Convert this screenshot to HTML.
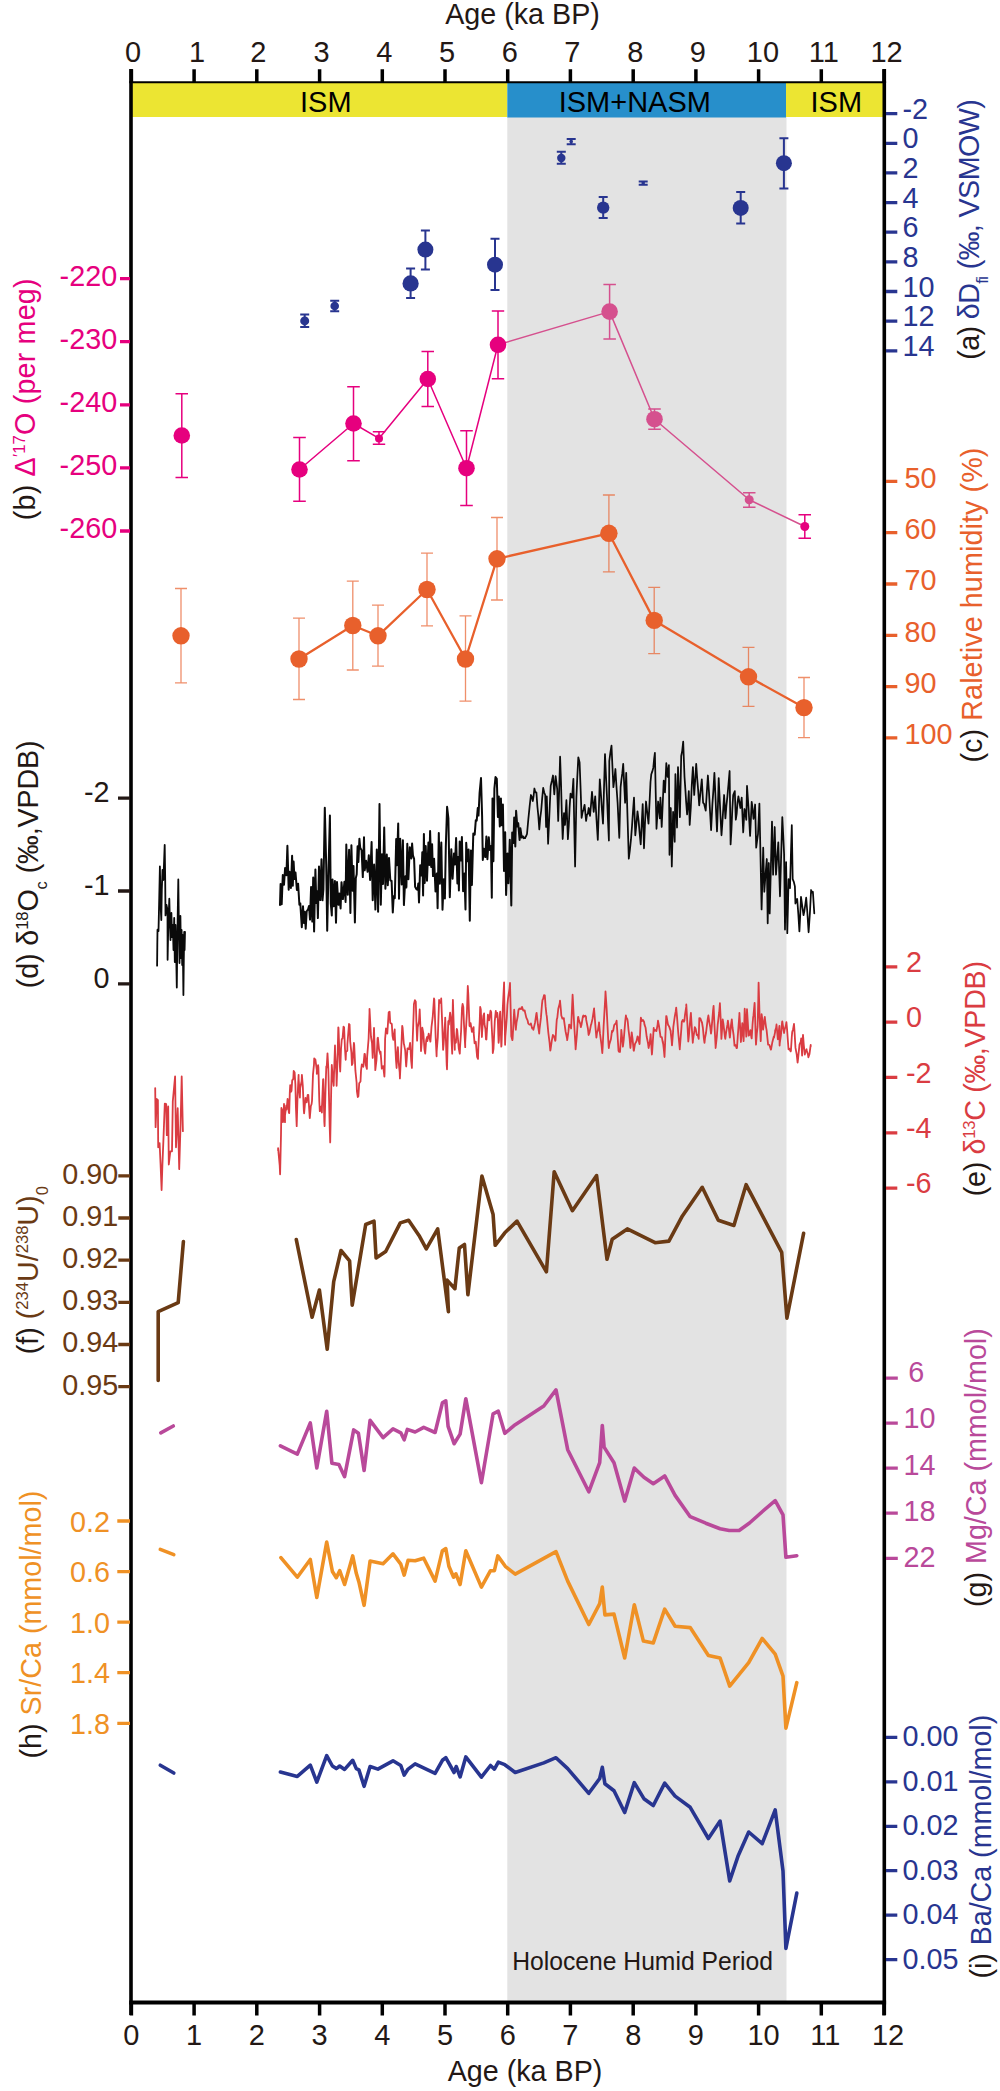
<!DOCTYPE html>
<html><head><meta charset="utf-8"><style>
html,body{margin:0;padding:0;background:#fff;}
svg{display:block;font-family:"Liberation Sans", sans-serif;}
</style></head><body>
<svg width="1000" height="2091" viewBox="0 0 1000 2091">
<rect width="1000" height="2091" fill="#fff"/>
<rect x="507.3" y="117" width="279.2" height="1884" fill="#E3E3E3"/>
<rect x="131" y="83" width="376.3" height="34" fill="#ECE532"/>
<rect x="786" y="83" width="98" height="34" fill="#ECE532"/>
<rect x="507.3" y="83" width="278.7" height="34.5" fill="#278FCB"/>
<text transform="translate(325.8,112.2) scale(1,1.035)" font-size="29" text-anchor="middle" fill="#000">ISM</text>
<text transform="translate(634.8,112.2) scale(1,1.035)" font-size="29" text-anchor="middle" fill="#000">ISM+NASM</text>
<text transform="translate(836.3,112.2) scale(1,1.035)" font-size="29" text-anchor="middle" fill="#000">ISM</text>
<text transform="translate(642.5,1969.6) scale(1,1.035)" font-size="24.7" text-anchor="middle" fill="#231815">Holocene Humid Period</text>
<path d="M304.7 314.6V327.1M300.2 314.6H309.2M300.2 327.1H309.2" stroke="#283590" stroke-width="2" fill="none" />
<circle cx="304.7" cy="320.9" r="4.5" fill="#283590"/>
<path d="M334.7 300.7V311.3M330.2 300.7H339.2M330.2 311.3H339.2" stroke="#283590" stroke-width="2" fill="none" />
<circle cx="334.7" cy="306.0" r="4.3" fill="#283590"/>
<path d="M410.6 268.6V298.1M406.1 268.6H415.1M406.1 298.1H415.1" stroke="#283590" stroke-width="2" fill="none" />
<circle cx="410.6" cy="283.4" r="8.1" fill="#283590"/>
<path d="M425.4 230.4V269.5M420.9 230.4H429.9M420.9 269.5H429.9" stroke="#283590" stroke-width="2" fill="none" />
<circle cx="425.4" cy="249.6" r="8" fill="#283590"/>
<path d="M495.0 238.8V289.9M490.5 238.8H499.5M490.5 289.9H499.5" stroke="#283590" stroke-width="2" fill="none" />
<circle cx="495.0" cy="264.7" r="8" fill="#283590"/>
<path d="M561.3 151.7V163.7M556.8 151.7H565.8M556.8 163.7H565.8" stroke="#283590" stroke-width="2" fill="none" />
<circle cx="561.3" cy="158.0" r="4.2" fill="#283590"/>
<path d="M571.2 139.0V144.2M566.7 139.0H575.7M566.7 144.2H575.7" stroke="#283590" stroke-width="2" fill="none" />
<circle cx="571.2" cy="141.6" r="1.8" fill="#283590"/>
<path d="M603.2 197.0V218.0M598.7 197.0H607.7M598.7 218.0H607.7" stroke="#283590" stroke-width="2" fill="none" />
<circle cx="603.2" cy="207.6" r="6.2" fill="#283590"/>
<path d="M643.2 181.4V184.7M638.7 181.4H647.7M638.7 184.7H647.7" stroke="#283590" stroke-width="2" fill="none" />
<circle cx="643.2" cy="182.9" r="1.8" fill="#283590"/>
<path d="M740.7 192.0V223.5M736.2 192.0H745.2M736.2 223.5H745.2" stroke="#283590" stroke-width="2" fill="none" />
<circle cx="740.7" cy="207.9" r="8" fill="#283590"/>
<path d="M783.9 138.2V188.6M779.4 138.2H788.4M779.4 188.6H788.4" stroke="#283590" stroke-width="2" fill="none" />
<circle cx="783.9" cy="163.2" r="8" fill="#283590"/>
<polyline points="299.5,469.5 353.5,423.5 379.0,438.4 427.8,379.0 466.5,468.2 498.0,344.8" fill="none" stroke="#E6007E" stroke-width="1.5" stroke-linejoin="round" stroke-linecap="round" />
<polyline points="498.0,344.8 609.6,311.6 654.5,419.2 749.2,499.8" fill="none" stroke="#D5508E" stroke-width="1.5" stroke-linejoin="round" stroke-linecap="round" />
<polyline points="749.2,499.8 804.8,526.5" fill="none" stroke="#D5508E" stroke-width="1.5" stroke-linejoin="round" stroke-linecap="round" />
<path d="M181.8 393.8V477.5M175.5 393.8H188.0M175.5 477.5H188.0" stroke="#E6007E" stroke-width="1.5" fill="none" />
<circle cx="181.8" cy="435.5" r="8.3" fill="#E6007E"/>
<path d="M299.5 437.5V501.2M293.2 437.5H305.8M293.2 501.2H305.8" stroke="#E6007E" stroke-width="1.5" fill="none" />
<circle cx="299.5" cy="469.5" r="8.3" fill="#E6007E"/>
<path d="M353.5 386.8V460.8M347.2 386.8H359.8M347.2 460.8H359.8" stroke="#E6007E" stroke-width="1.5" fill="none" />
<circle cx="353.5" cy="423.5" r="8.3" fill="#E6007E"/>
<path d="M379.0 431.8V444.2M372.8 431.8H385.2M372.8 444.2H385.2" stroke="#E6007E" stroke-width="1.5" fill="none" />
<circle cx="379.0" cy="438.4" r="4" fill="#E6007E"/>
<path d="M427.8 351.5V406.5M421.5 351.5H434.0M421.5 406.5H434.0" stroke="#E6007E" stroke-width="1.5" fill="none" />
<circle cx="427.8" cy="379.0" r="8.3" fill="#E6007E"/>
<path d="M466.5 430.8V505.5M460.2 430.8H472.8M460.2 505.5H472.8" stroke="#E6007E" stroke-width="1.5" fill="none" />
<circle cx="466.5" cy="468.2" r="8.3" fill="#E6007E"/>
<path d="M498.0 311.0V378.8M491.8 311.0H504.2M491.8 378.8H504.2" stroke="#E6007E" stroke-width="1.5" fill="none" />
<circle cx="498.0" cy="344.8" r="8.3" fill="#E6007E"/>
<path d="M609.6 284.5V339.0M603.4 284.5H615.9M603.4 339.0H615.9" stroke="#D5508E" stroke-width="1.5" fill="none" />
<circle cx="609.6" cy="311.6" r="8.3" fill="#D5508E"/>
<path d="M654.5 409.0V429.2M648.2 409.0H660.8M648.2 429.2H660.8" stroke="#D5508E" stroke-width="1.5" fill="none" />
<circle cx="654.5" cy="419.2" r="8.3" fill="#D5508E"/>
<path d="M749.2 492.8V507.2M743.0 492.8H755.5M743.0 507.2H755.5" stroke="#D5508E" stroke-width="1.5" fill="none" />
<circle cx="749.2" cy="499.8" r="4.5" fill="#D5508E"/>
<path d="M804.8 514.8V538.2M798.5 514.8H811.0M798.5 538.2H811.0" stroke="#E6007E" stroke-width="1.5" fill="none" />
<circle cx="804.8" cy="526.5" r="4.5" fill="#E6007E"/>
<path d="M181.0 588.5V682.8M175.0 588.5H187.0M175.0 682.8H187.0" stroke="#E8602C" stroke-width="1.3" fill="none" opacity="0.7"/>
<path d="M299.0 618.2V699.5M293.0 618.2H305.0M293.0 699.5H305.0" stroke="#E8602C" stroke-width="1.3" fill="none" opacity="0.7"/>
<path d="M352.8 581.2V670.0M346.8 581.2H358.8M346.8 670.0H358.8" stroke="#E8602C" stroke-width="1.3" fill="none" opacity="0.7"/>
<path d="M378.0 605.2V666.2M372.0 605.2H384.0M372.0 666.2H384.0" stroke="#E8602C" stroke-width="1.3" fill="none" opacity="0.7"/>
<path d="M427.0 553.2V625.8M421.0 553.2H433.0M421.0 625.8H433.0" stroke="#E8602C" stroke-width="1.3" fill="none" opacity="0.7"/>
<path d="M465.5 615.8V701.2M459.5 615.8H471.5M459.5 701.2H471.5" stroke="#E8602C" stroke-width="1.3" fill="none" opacity="0.7"/>
<path d="M497.0 517.5V600.0M491.0 517.5H503.0M491.0 600.0H503.0" stroke="#E8602C" stroke-width="1.3" fill="none" opacity="0.7"/>
<path d="M608.9 495.0V571.8M602.9 495.0H614.9M602.9 571.8H614.9" stroke="#E8602C" stroke-width="1.3" fill="none" opacity="0.7"/>
<path d="M654.2 587.3V653.7M648.2 587.3H660.2M648.2 653.7H660.2" stroke="#E8602C" stroke-width="1.3" fill="none" opacity="0.7"/>
<path d="M748.5 647.3V706.3M742.5 647.3H754.5M742.5 706.3H754.5" stroke="#E8602C" stroke-width="1.3" fill="none" opacity="0.7"/>
<path d="M804.0 677.5V737.6M798.0 677.5H810.0M798.0 737.6H810.0" stroke="#E8602C" stroke-width="1.3" fill="none" opacity="0.7"/>
<polyline points="299.0,659.0 352.8,625.5 378.0,635.8 427.0,589.5 465.5,659.0 497.0,558.8 608.9,533.3 654.2,620.4 748.5,676.8 804.0,707.6" fill="none" stroke="#E8602C" stroke-width="2.3" stroke-linejoin="round" stroke-linecap="round" />
<circle cx="181.0" cy="635.8" r="8.7" fill="#E8602C"/>
<circle cx="299.0" cy="659.0" r="8.7" fill="#E8602C"/>
<circle cx="352.8" cy="625.5" r="8.7" fill="#E8602C"/>
<circle cx="378.0" cy="635.8" r="8.7" fill="#E8602C"/>
<circle cx="427.0" cy="589.5" r="8.7" fill="#E8602C"/>
<circle cx="465.5" cy="659.0" r="8.7" fill="#E8602C"/>
<circle cx="497.0" cy="558.8" r="8.7" fill="#E8602C"/>
<circle cx="608.9" cy="533.3" r="8.7" fill="#E8602C"/>
<circle cx="654.2" cy="620.4" r="8.7" fill="#E8602C"/>
<circle cx="748.5" cy="676.8" r="8.7" fill="#E8602C"/>
<circle cx="804.0" cy="707.6" r="8.7" fill="#E8602C"/>
<polyline points="158.2,1380.5 158.2,1311.6 178.2,1302.7 183.4,1241.6" fill="none" stroke="#6A3A14" stroke-width="3.6" stroke-linejoin="round" stroke-linecap="round" />
<polyline points="296.3,1239.6 312.1,1317.3 319.4,1290.0 327.2,1349.3 333.7,1281.7 341.0,1250.5 349.6,1260.9 352.2,1305.1 365.7,1224.5 374.0,1221.1 376.1,1258.0 385.7,1251.5 400.3,1222.9 408.6,1220.3 419.0,1235.4 426.3,1248.9 437.7,1228.9 448.4,1311.6 447.1,1280.1 454.9,1288.7 459.3,1247.9 464.5,1244.5 467.9,1294.7 481.9,1176.1 493.1,1214.6 495.2,1245.3 504.8,1232.8 517.0,1221.1 546.4,1271.8 554.2,1171.7 572.4,1210.7 596.6,1175.6 607.0,1259.3 612.2,1239.3 627.3,1228.9 655.1,1242.7 668.9,1241.1 682.4,1215.9 702.2,1187.3 718.3,1220.3 733.9,1225.5 746.1,1184.7 781.7,1252.3 786.9,1318.1 803.6,1233.3" fill="none" stroke="#6A3A14" stroke-width="3.6" stroke-linejoin="round" stroke-linecap="round" />
<polyline points="160.8,1432.8 173.3,1426.0" fill="none" stroke="#B9499A" stroke-width="3.6" stroke-linejoin="round" stroke-linecap="round" />
<polyline points="280.4,1445.8 297.3,1454.1 310.3,1422.9 316.8,1467.9 326.7,1411.2 331.9,1463.2 338.9,1464.5 344.6,1476.7 353.7,1429.9 358.4,1433.3 364.1,1470.5 370.1,1420.3 383.1,1437.7 393.0,1428.9 400.8,1432.8 404.2,1439.8 407.3,1429.4 415.1,1432.0 423.7,1427.3 435.1,1432.5 442.4,1402.9 445.8,1400.8 448.1,1426.3 454.1,1443.7 460.1,1434.1 465.8,1398.7 481.4,1482.7 493.1,1413.8 498.3,1411.2 504.8,1433.3 515.2,1424.7 543.8,1406.0 556.0,1389.9 567.7,1449.7 588.8,1491.8 599.7,1462.7 602.3,1425.5 604.1,1447.1 614.0,1462.7 624.7,1501.1 634.3,1468.1 643.9,1477.2 653.3,1483.7 664.7,1475.9 675.1,1495.4 690.2,1516.7 705.8,1523.2 720.1,1528.7 729.2,1530.5 739.1,1530.5 749.5,1523.0 763.0,1511.0 775.2,1500.6 783.0,1514.9 785.9,1557.3 796.8,1555.7" fill="none" stroke="#B9499A" stroke-width="3.6" stroke-linejoin="round" stroke-linecap="round" />
<polyline points="160.3,1549.4 173.8,1554.6" fill="none" stroke="#EF9125" stroke-width="3.6" stroke-linejoin="round" stroke-linecap="round" />
<polyline points="280.9,1557.7 297.3,1577.2 310.3,1559.5 316.8,1597.5 326.7,1542.1 332.4,1571.5 336.3,1577.7 339.7,1570.7 344.6,1584.5 352.7,1555.9 356.3,1573.3 358.9,1581.9 364.1,1605.3 370.1,1561.1 383.1,1563.7 393.0,1553.8 400.8,1564.2 404.2,1575.1 408.1,1560.3 415.1,1560.8 423.7,1558.2 435.1,1581.1 442.4,1550.7 445.8,1548.6 448.9,1566.3 453.6,1577.2 455.9,1573.8 460.1,1584.5 465.8,1550.7 481.4,1587.1 490.5,1570.7 494.4,1570.7 497.8,1555.9 505.3,1566.3 515.2,1574.1 556.0,1551.7 567.7,1581.1 588.8,1624.5 599.7,1603.7 602.3,1587.1 604.9,1614.9 614.0,1614.1 624.7,1658.0 634.3,1604.7 643.4,1641.1 653.3,1642.9 664.7,1609.1 675.1,1626.3 690.2,1627.6 708.4,1655.4 720.1,1658.0 729.7,1686.1 748.7,1662.7 762.2,1638.5 775.2,1654.1 783.0,1676.2 785.9,1728.2 796.8,1682.7" fill="none" stroke="#EF9125" stroke-width="3.6" stroke-linejoin="round" stroke-linecap="round" />
<polyline points="160.3,1765.2 173.8,1773.0" fill="none" stroke="#283590" stroke-width="3.6" stroke-linejoin="round" stroke-linecap="round" />
<polyline points="280.4,1772.0 297.3,1776.4 310.3,1765.2 316.8,1782.1 326.7,1755.6 332.4,1766.0 336.3,1768.6 339.7,1766.0 344.6,1769.4 352.7,1760.3 356.3,1768.6 358.9,1769.9 364.1,1786.3 370.1,1766.5 377.9,1769.1 393.0,1760.8 400.8,1765.5 404.2,1775.1 408.1,1769.1 415.1,1763.9 435.1,1773.3 442.4,1760.3 445.8,1757.7 454.1,1772.5 456.2,1766.5 460.1,1776.9 465.8,1756.9 481.4,1777.2 490.5,1765.5 494.4,1769.1 498.3,1762.1 504.8,1764.7 515.2,1772.5 543.8,1762.9 556.0,1757.7 567.7,1768.6 588.8,1793.3 599.7,1778.5 602.3,1767.3 604.9,1783.7 614.0,1790.7 624.7,1812.5 634.3,1782.6 643.9,1798.7 653.3,1805.5 664.7,1783.1 675.1,1796.1 690.2,1807.3 708.4,1838.5 720.1,1821.1 729.7,1880.9 738.3,1855.4 748.7,1832.0 762.2,1843.7 775.2,1809.9 783.0,1871.0 785.9,1948.5 796.8,1893.1" fill="none" stroke="#283590" stroke-width="3.6" stroke-linejoin="round" stroke-linecap="round" />
<polyline points="157.1,965.7 157.3,945.0 157.5,929.7 158.5,931.0 159.2,900.0 159.9,866.4 160.6,905.0 161.3,920.0 161.8,890.0 162.5,870.0 163.4,880.0 164.7,844.9 165.2,880.0 165.5,915.4 166.5,905.0 167.5,910.0 167.6,959.8 168.2,930.0 169.3,898.7 170.0,925.0 170.5,940.0 171.4,913.0 172.0,937.0 172.8,925.0 173.5,950.0 174.2,918.0 174.8,962.0 175.5,925.0 176.2,955.0 176.8,987.5 177.3,940.0 178.3,879.4 178.8,920.0 179.5,963.0 180.0,925.0 180.4,916.0 181.0,958.0 181.6,930.0 182.2,965.0 182.7,935.0 183.4,995.0 183.8,960.0 184.2,932.0 184.6,950.0 185.0,932.0" fill="none" stroke="#0a0a0a" stroke-width="1.8" stroke-linejoin="round" stroke-linecap="round" />
<polyline points="280.0,905.0 280.6,883.9 281.7,904.2 282.8,875.0 284.0,884.8 285.1,868.1 286.4,875.2 287.4,845.7 288.7,889.8 289.5,871.7 290.9,888.0 292.1,855.7 292.8,885.8 293.6,861.6 294.5,879.1 295.5,872.5 296.9,890.0 298.1,883.8 299.4,904.7 300.3,903.3 301.8,927.2 303.0,906.3 303.9,923.0 304.7,911.8 305.7,928.7 306.7,911.3 308.1,909.2 309.0,906.0 310.0,919.6 311.1,886.9 312.3,921.6 313.2,877.5 314.1,931.6 315.4,869.5 316.3,902.9 317.1,891.2 317.9,918.1 319.0,866.5 320.3,900.1 321.5,859.3 322.5,900.3 323.4,889.5 324.8,807.8 326.2,864.3 327.2,930.7 328.4,874.7 329.9,815.6 330.8,903.6 331.8,915.5 332.5,879.4 333.7,906.2 334.9,881.1 336.0,922.8 337.0,882.1 338.4,904.8 339.3,893.6 340.6,908.5 341.5,882.2 342.9,899.1 344.4,881.8 345.6,901.9 346.3,844.5 347.8,894.8 349.1,849.8 350.4,912.9 351.4,845.3 352.6,890.7 353.5,865.9 354.9,922.4 355.8,878.2 356.7,874.2 357.6,846.2 358.4,861.9 359.4,838.7 360.2,847.8 361.6,850.2 362.8,877.1 364.0,837.2 364.7,870.3 366.1,860.8 367.6,871.8 368.8,855.2 370.1,880.0 371.6,842.1 372.7,900.3 374.1,864.6 375.4,909.6 376.8,849.5 378.1,911.8 379.5,804.0 380.8,904.7 382.0,854.3 383.0,884.1 384.2,827.6 385.4,888.7 386.8,854.5 387.8,885.2 389.0,857.9 390.3,880.3 391.6,881.0 392.8,912.5 393.7,896.3 394.8,898.2 396.2,838.9 396.9,865.3 398.2,823.6 399.0,898.7 400.2,838.8 401.7,884.5 402.9,840.3 403.9,905.1 405.4,876.3 406.4,887.4 407.3,843.8 408.4,879.3 409.8,847.2 411.3,858.4 412.1,843.5 413.0,855.7 414.1,858.9 415.1,886.7 416.5,889.3 417.6,889.7 418.3,883.4 419.0,902.5 420.2,865.2 421.5,875.4 422.3,852.3 423.1,895.6 423.9,834.0 424.7,882.9 425.7,846.1 427.0,880.8 428.4,842.6 429.3,865.0 430.1,831.1 431.2,867.0 432.1,844.3 433.0,876.1 434.1,858.7 435.5,891.5 436.8,873.6 437.6,908.2 438.8,833.0 439.9,883.7 441.3,842.6 442.5,909.7 443.8,879.3 444.9,898.5 445.8,846.9 447.1,806.8 448.4,818.4 449.8,897.3 451.3,849.2 452.6,878.7 454.0,853.6 455.0,864.4 456.1,838.0 457.4,883.4 458.1,857.0 458.9,890.4 459.7,841.6 461.0,860.4 461.9,837.1 463.1,891.3 464.4,873.4 465.5,909.4 466.2,842.7 467.4,861.2 468.6,849.4 469.8,920.8 470.9,850.6 471.9,885.0 473.3,833.6 474.7,834.6 475.8,820.2 476.7,820.6 477.8,807.9 478.5,815.6 479.6,792.8 481.0,778.0 482.1,816.0 482.8,859.9 483.9,848.8 485.3,857.1 486.4,836.4 487.4,859.3 488.8,837.3 489.8,849.9 491.0,846.1 491.8,897.8 492.5,798.6 493.4,861.2 494.4,788.6 495.5,777.0 496.8,778.9 497.9,817.0 498.8,796.4 499.8,826.5 500.9,798.4 501.7,825.2 502.9,804.6 504.0,870.9 505.2,832.3 506.1,894.9 507.5,853.4 508.4,883.3 509.8,839.7 511.3,905.5 512.2,832.6 513.4,843.0 514.2,817.6 515.3,846.5 516.1,810.8 517.3,826.6 518.2,823.1 519.6,840.0 520.4,828.3 521.7,837.5 522.9,836.4 523.7,838.1 524.4,837.8 525.0,838.0" fill="none" stroke="#0a0a0a" stroke-width="2.0" stroke-linejoin="round" stroke-linecap="round" />
<polyline points="525.0,838.0 526.0,836.3 527.0,834.0 528.3,819.6 529.6,806.7 530.9,795.0 531.8,796.8 532.8,801.0 533.6,796.1 534.4,788.5 535.4,792.4 536.4,792.4 537.4,806.5 538.3,815.5 539.3,829.5 540.3,817.3 541.2,810.5 542.2,798.1 543.2,787.9 544.2,792.5 545.2,795.0 546.1,826.9 546.8,796.3 548.1,843.8 549.0,823.8 549.8,805.1 550.7,785.9 551.9,780.8 553.0,775.5 554.3,794.4 555.6,776.2 556.4,782.4 557.2,789.2 558.2,821.0 559.2,789.3 560.1,756.7 561.0,782.2 561.8,812.4 562.7,839.0 564.0,813.2 565.0,825.0 566.4,800.2 567.9,839.2 568.8,825.4 569.6,807.6 570.5,793.7 571.3,795.5 572.1,797.6 573.4,778.8 574.2,823.6 575.1,866.5 576.4,797.6 577.3,777.1 578.3,757.3 579.6,762.5 580.6,788.9 581.6,817.8 582.6,812.1 583.6,809.2 584.6,804.8 586.1,821.0 587.0,814.7 587.8,813.9 588.7,808.0 590.0,815.8 591.0,805.0 592.0,791.8 592.9,802.7 593.7,811.9 595.2,796.3 596.5,819.5 597.8,839.9 598.8,810.2 599.8,779.4 600.9,793.8 601.9,809.3 603.0,823.6 604.0,788.9 605.0,754.1 606.0,776.5 606.9,795.0 607.9,819.0 608.9,840.5 609.3,761.2 610.4,752.4 611.5,745.6 612.5,768.0 613.4,787.2 614.4,779.1 615.4,769.0 616.5,787.0 617.6,802.8 618.5,821.6 619.3,837.9 620.6,787.2 621.5,779.0 622.3,773.2 623.2,763.8 624.2,784.8 625.1,802.8 626.2,772.9 627.5,816.6 628.8,858.7 629.9,850.0 631.0,839.2 632.0,826.4 633.0,811.1 634.0,797.6 635.3,835.3 636.4,824.2 637.5,811.3 638.6,820.6 639.6,832.7 640.7,844.4 641.7,824.1 642.7,804.1 644.0,848.3 645.0,822.9 646.0,801.5 647.2,812.0 648.5,823.6 649.5,803.4 650.5,782.0 651.3,774.2 652.3,771.4 653.3,767.7 654.1,759.2 654.9,752.8 655.7,792.6 656.5,828.8 657.3,815.8 658.1,801.5 659.0,809.3 659.8,818.4 660.4,797.6 661.7,826.9 662.7,804.4 663.7,780.7 665.0,792.4 666.3,763.2 667.6,776.8 668.9,765.1 669.5,854.8 670.8,808.0 671.8,866.5 673.1,811.9 673.9,827.1 674.7,841.8 675.4,774.2 676.2,801.0 677.0,827.5 678.0,767.1 679.0,791.7 679.9,817.1 681.2,756.0 682.2,750.8 683.2,741.7 684.5,776.8 685.4,789.9 686.2,802.7 687.1,814.5 688.0,803.8 688.8,791.1 689.7,824.9 690.8,807.6 691.8,784.5 692.9,767.1 694.2,795.0 695.2,779.9 696.2,763.8 697.2,778.6 698.2,790.6 699.2,805.4 700.5,792.0 701.8,779.4 703.1,802.8 704.0,803.6 704.8,806.8 705.7,810.6 706.8,792.6 707.9,775.5 709.0,792.1 710.0,810.9 711.1,830.1 712.4,804.1 713.4,790.1 714.4,772.9 715.3,792.6 716.1,811.9 717.0,831.4 717.9,806.6 718.7,778.1 719.6,797.4 720.6,818.2 721.5,835.3 722.4,822.4 723.2,809.7 724.1,795.0 725.4,818.4 726.4,805.7 727.4,796.3 728.5,784.0 729.6,771.0 730.6,844.4 731.5,829.0 732.3,809.6 733.2,795.0 734.8,791.1 735.8,819.7 736.7,813.6 737.5,802.7 738.4,796.3 739.4,802.0 740.4,808.0 741.7,797.6 743.2,832.4 744.5,809.0 745.4,813.1 746.3,819.8 747.0,785.9 747.8,797.4 748.6,809.0 750.1,836.0 750.9,819.3 751.7,801.8 752.6,808.6 753.5,818.9 754.3,813.5 755.1,804.5 756.2,847.7 757.1,840.6 758.0,834.2 759.4,803.6 760.5,856.6 761.6,909.4 762.4,878.9 763.2,847.7 764.3,891.8 765.5,874.9 766.8,859.0 767.7,923.3 768.8,863.0 769.7,913.4 770.9,866.6 772.0,821.6 773.1,874.7 773.9,851.5 774.7,827.0 776.0,874.7 777.1,858.7 778.3,842.3 779.1,868.4 780.0,896.3 781.1,857.6 782.3,817.1 783.2,834.7 784.1,854.0 785.0,929.6 786.1,862.1 787.3,933.2 788.6,879.2 790.0,888.2 790.9,854.8 791.8,825.2 792.7,879.2 793.8,881.8 794.9,886.4 795.4,903.5 796.3,899.4 797.2,899.0 798.3,913.8 799.4,931.4 800.2,915.1 801.0,896.8 802.2,905.6 803.5,915.2 804.4,911.0 805.3,904.5 806.2,897.7 807.4,913.2 808.6,932.3 809.9,913.1 811.1,890.0 812.0,892.7 812.9,891.8 814.3,913.4" fill="none" stroke="#0a0a0a" stroke-width="1.75" stroke-linejoin="round" stroke-linecap="round" />
<polyline points="155.2,1088.1 155.6,1127.2 156.8,1099.0 157.9,1100.2 158.2,1147.3 159.6,1143.2 160.6,1165.0 161.6,1190.0 162.4,1165.0 163.4,1140.4 164.8,1103.6 166.2,1104.2 166.8,1135.2 168.2,1106.5 168.8,1164.5 170.3,1151.3 172.0,1151.3 172.8,1101.3 175.1,1076.4 176.0,1147.3 177.7,1108.2 179.2,1169.1 180.6,1123.1 181.7,1076.4 182.9,1131.2" fill="none" stroke="#DA3C42" stroke-width="1.8" stroke-linejoin="round" stroke-linecap="round" />
<polyline points="278.1,1150.5 278.1,1148.2 279.7,1165.4 280.1,1174.3 281.0,1134.8 281.4,1107.9 282.1,1109.8 283.0,1122.2 283.7,1114.0 284.0,1104.0 285.0,1122.2 285.0,1115.6 286.3,1105.3 286.6,1109.6 287.6,1098.8 288.2,1102.7 288.8,1112.1 289.2,1113.1 289.8,1092.6 290.2,1085.2 290.8,1091.8 291.5,1091.0 292.2,1080.4 293.3,1078.9 293.7,1070.9 294.6,1072.4 295.4,1084.5 295.9,1106.7 296.7,1126.1 297.5,1098.0 298.6,1074.8 298.6,1078.0 299.9,1097.5 300.2,1088.0 301.6,1081.3 301.9,1074.8 302.8,1085.7 303.8,1109.9 304.1,1113.3 305.5,1097.9 306.6,1102.3 307.7,1094.9 308.3,1094.9 309.7,1117.0 309.8,1118.1 310.8,1106.3 311.6,1104.0 312.0,1101.0 313.0,1074.4 314.0,1064.3 314.2,1058.5 315.4,1059.6 316.8,1070.2 316.8,1073.8 318.1,1065.1 318.4,1067.6 319.3,1101.1 319.8,1111.2 320.9,1106.7 321.9,1112.5 322.0,1106.6 323.1,1079.3 323.3,1079.1 324.3,1122.0 324.6,1126.1 325.5,1090.3 326.3,1066.3 326.7,1067.4 327.5,1053.3 328.3,1068.3 328.5,1075.4 329.7,1127.0 330.2,1142.4 331.3,1085.2 331.8,1065.0 332.5,1075.1 333.7,1085.8 334.1,1071.3 335.0,1045.5 335.1,1051.7 336.4,1074.6 336.6,1085.8 337.5,1060.3 338.3,1027.3 338.5,1028.3 339.9,1066.7 340.2,1071.5 341.0,1049.2 341.8,1039.0 342.5,1038.7 343.5,1026.7 344.1,1027.3 345.0,1049.0 345.7,1059.8 346.0,1051.9 347.3,1050.8 347.4,1044.2 349.0,1024.0 349.6,1024.7 350.2,1041.5 351.4,1052.6 351.9,1065.0 352.6,1063.4 353.9,1042.9 354.2,1044.9 355.4,1070.7 356.6,1082.5 356.9,1091.0 357.8,1097.0 358.4,1096.2 359.2,1083.2 360.5,1081.5 361.0,1070.9 361.8,1064.5 363.3,1066.7 364.5,1053.8 364.9,1054.0 365.8,1065.1 366.9,1068.9 367.1,1057.3 368.6,1038.8 369.5,1013.0 369.5,1008.9 371.0,1037.0 372.0,1043.0 372.7,1057.9 373.6,1038.8 374.0,1028.0 375.0,1059.0 375.3,1070.2 376.5,1059.8 377.6,1038.1 377.9,1037.7 379.1,1050.1 380.5,1054.6 380.6,1051.7 381.8,1068.6 382.5,1066.3 383.2,1066.2 384.4,1076.7 384.6,1072.3 385.1,1039.0 386.0,1028.4 387.0,1029.9 387.3,1033.7 388.7,1012.2 389.6,1011.7 390.2,1022.8 391.8,1024.0 392.5,1035.8 393.3,1039.9 394.7,1029.5 394.8,1035.1 396.0,1060.1 396.6,1068.0 397.0,1056.6 397.9,1047.2 398.7,1062.8 399.7,1072.4 399.9,1078.4 400.9,1057.8 402.2,1025.8 402.6,1027.6 403.8,1043.7 404.1,1044.6 405.2,1050.3 406.1,1065.4 406.2,1066.5 407.5,1048.4 408.0,1048.5 409.1,1049.1 410.1,1042.8 410.3,1045.3 411.2,1060.9 411.9,1068.0 412.7,1039.2 413.7,1012.1 413.9,1004.3 414.9,1000.2 415.8,1001.7 416.4,1022.2 417.1,1040.7 417.7,1027.7 419.0,1021.1 419.7,1009.5 420.6,1032.1 421.0,1051.1 421.8,1041.6 422.3,1027.7 423.4,1033.7 424.5,1049.7 425.2,1053.7 426.2,1040.0 427.2,1036.8 427.4,1041.2 428.7,1033.6 430.4,1041.7 430.8,1036.8 431.5,1026.9 432.7,1017.2 434.0,998.5 434.3,999.3 435.7,1037.9 436.6,1056.3 436.7,1051.1 437.8,1037.6 439.1,1000.0 439.2,1003.0 440.8,1002.6 441.2,998.5 442.1,1020.8 443.1,1049.8 443.6,1044.1 445.1,1021.2 445.2,1017.6 446.7,1064.9 447.0,1069.3 447.9,1032.4 448.3,1021.2 448.8,1024.7 450.1,1012.7 450.9,1018.0 451.5,1039.9 452.2,1053.7 452.6,1014.9 452.9,999.8 453.9,1031.4 454.8,1049.8 454.8,1043.6 455.9,1042.6 456.8,1029.0 457.2,1030.0 458.8,1048.8 459.8,1053.7 460.0,1048.2 461.1,1030.9 462.0,1008.2 462.6,1004.0 463.3,1006.9 464.0,1024.5 465.2,1047.2 465.2,1042.4 466.9,1013.0 467.8,986.0 468.3,994.4 469.5,1025.9 469.8,1026.4 470.6,1023.2 471.9,1031.9 473.6,1027.1 473.7,1032.9 474.6,1043.3 475.8,1041.8 477.1,1056.8 478.0,1058.9 478.3,1048.6 479.7,1021.6 480.2,1006.9 480.8,1009.5 481.9,1037.0 482.1,1032.9 483.3,1016.0 484.1,1013.4 484.5,1024.0 485.4,1029.2 486.0,1039.4 486.4,1039.5 487.9,1014.6 488.0,1016.0 489.1,1020.4 490.5,1010.6 491.2,1012.1 491.6,1024.2 492.6,1043.6 492.8,1053.1 493.5,1048.8 494.8,1020.8 495.8,1010.8 496.2,1016.8 497.3,1012.9 497.8,1019.6 498.6,1042.8 498.9,1040.4 499.8,1014.8 500.2,1011.6 501.3,1046.6 501.5,1045.4 502.8,1008.4 504.1,982.4 504.2,991.2 505.1,1044.8 505.4,1036.5 506.8,1018.0 507.4,1005.1 508.0,998.8 509.5,988.6 510.0,983.0 510.9,1019.6 511.3,1036.3 512.4,1040.2 512.6,1038.9 513.8,1016.8 514.2,1009.7 515.1,1021.2 515.8,1029.8 516.5,1022.6 517.8,1016.0 518.4,1010.3 519.4,1008.5 521.0,1009.1 521.7,1007.1 522.1,1007.0 523.2,1010.5 524.7,1010.3 524.9,1011.6 526.3,1017.6 527.6,1020.4 528.2,1023.3 529.2,1024.5 530.8,1024.6 530.9,1023.5 532.2,1028.6 533.3,1027.9 533.4,1029.8 535.0,1022.9 536.4,1013.4 536.6,1012.9 537.9,1024.5 539.2,1033.7 539.5,1029.3 540.9,1017.9 542.0,1004.2 542.5,999.9 542.9,999.6 544.0,995.2 544.8,995.4 545.6,1006.4 546.4,1014.2 546.8,1016.3 548.3,1032.5 549.6,1042.8 550.3,1050.6 550.5,1049.9 551.8,1040.7 552.9,1035.0 553.0,1036.5 554.1,1036.2 555.2,1040.8 555.5,1040.2 556.4,1025.0 556.8,1019.4 557.3,1017.8 558.3,1008.7 559.7,1003.5 560.0,1000.6 560.9,1010.0 561.3,1015.5 562.4,1018.6 563.9,1018.2 563.9,1019.4 565.6,1031.5 567.1,1038.8 567.2,1040.2 568.4,1031.7 569.1,1024.6 570.0,1025.2 571.1,1028.5 571.3,1024.5 572.6,994.7 572.9,1000.0 573.9,1019.7 575.5,1046.2 575.6,1049.3 576.9,1034.7 578.0,1017.6 578.2,1016.8 579.0,1020.7 580.3,1023.8 580.8,1027.2 581.5,1024.8 582.9,1016.4 583.4,1015.5 584.0,1016.7 585.2,1015.6 586.0,1016.8 586.2,1019.9 587.9,1028.5 588.6,1035.0 589.5,1032.7 591.0,1024.6 591.2,1024.6 592.5,1018.9 594.1,1008.3 594.1,1009.0 595.6,1028.7 596.4,1037.6 597.0,1032.8 597.9,1030.4 599.0,1023.3 599.0,1022.4 600.0,1033.7 601.5,1045.0 602.3,1053.2 602.7,1046.7 603.6,1026.6 605.3,997.1 605.5,991.5 606.6,1007.9 608.2,1039.4 608.8,1048.0 609.3,1044.6 610.9,1039.3 612.0,1030.8 612.0,1032.4 613.2,1030.5 614.2,1025.1 615.9,1023.2 616.6,1020.7 617.3,1031.2 618.5,1050.6 618.9,1051.6 619.9,1050.5 620.0,1052.0 621.1,1035.6 621.3,1029.8 622.6,1042.6 622.9,1046.7 623.7,1040.2 625.3,1020.6 625.9,1015.5 626.3,1017.6 627.4,1019.3 627.8,1022.0 628.5,1029.6 629.6,1038.4 630.4,1048.0 631.1,1040.5 631.7,1032.4 632.5,1038.3 633.7,1050.6 633.9,1050.7 635.0,1043.9 636.5,1041.3 637.6,1036.3 637.9,1036.8 639.5,1044.1 639.6,1043.9 640.8,1018.8 640.9,1017.7 641.8,1021.1 643.0,1020.0 644.1,1022.0 644.5,1024.6 645.6,1027.8 646.0,1031.1 646.7,1036.8 648.1,1043.8 648.6,1048.0 649.7,1042.8 650.6,1035.0 650.6,1034.1 651.9,1054.5 652.1,1052.6 653.7,1028.0 653.8,1028.5 654.8,1030.7 656.2,1029.9 656.4,1031.1 657.6,1024.6 658.0,1020.7 658.9,1025.4 660.3,1035.0 660.5,1036.9 661.8,1037.1 662.9,1043.0 662.9,1041.5 663.9,1050.1 664.5,1057.0 665.0,1045.8 666.2,1016.2 666.5,1016.1 668.1,1025.2 668.1,1024.6 669.3,1026.9 670.7,1031.1 670.7,1032.3 671.6,1040.2 672.0,1045.4 673.1,1031.1 673.3,1027.2 674.7,1017.0 675.7,1011.4 676.2,1007.7 677.0,1016.7 677.9,1028.5 678.3,1033.5 679.8,1049.3 679.8,1048.5 681.4,1028.3 681.8,1022.0 682.8,1020.0 683.9,1021.7 684.4,1020.7 685.0,1014.9 686.2,1006.9 686.3,1004.5 687.5,1025.6 688.3,1041.5 688.9,1036.0 690.4,1017.6 690.9,1012.9 691.5,1023.4 692.8,1042.8 693.0,1039.9 694.5,1030.2 694.8,1027.2 695.7,1029.0 696.8,1035.0 697.7,1034.9 698.7,1038.9 699.2,1021.8 699.3,1018.1 700.3,1018.4 701.8,1022.4 701.9,1022.0 702.9,1028.0 703.9,1038.9 704.5,1042.8 705.0,1038.1 706.0,1033.0 707.7,1019.1 708.4,1015.5 709.2,1021.6 710.3,1027.3 711.0,1033.7 711.4,1030.9 713.0,1011.2 713.6,1005.8 714.2,1019.7 715.6,1046.6 715.6,1048.0 716.8,1037.0 717.7,1024.7 719.2,1012.2 719.9,1003.2 720.6,1017.3 721.4,1038.9 721.8,1033.4 722.7,1019.4 723.4,1023.6 724.9,1036.9 725.3,1038.9 726.1,1032.5 727.4,1024.7 727.9,1020.7 728.5,1025.0 729.8,1037.6 729.9,1037.6 731.0,1024.9 731.8,1019.4 732.5,1027.5 733.6,1035.0 734.4,1044.1 734.5,1045.7 735.7,1045.2 736.6,1048.2 737.0,1048.0 737.8,1036.0 739.4,1014.6 739.4,1012.9 740.5,1033.3 740.9,1042.0 741.5,1035.2 742.3,1023.1 742.7,1027.4 743.6,1041.1 744.2,1025.2 744.7,1008.7 745.1,1015.1 746.3,1036.6 746.3,1036.0 747.0,1009.2 747.9,1023.7 748.6,1035.7 749.4,1034.8 750.4,1030.2 750.4,1031.2 751.5,1037.8 751.7,1038.4 752.5,1025.0 753.1,1017.7 753.5,1015.2 754.6,1002.9 754.7,1004.5 755.7,1037.5 756.0,1044.7 756.8,1034.0 757.6,1026.7 758.3,998.7 758.6,982.6 759.3,1006.4 759.6,1016.8 760.7,1041.1 760.8,1039.5 761.6,1014.1 762.0,1016.8 763.0,1029.4 763.1,1029.7 764.3,1019.7 764.8,1016.8 765.2,1020.8 766.1,1027.6 766.6,1030.1 768.1,1044.6 768.4,1044.7 769.3,1044.8 770.9,1049.7 771.1,1049.2 772.4,1041.9 773.8,1036.6 774.0,1037.5 775.1,1032.1 775.1,1030.7 776.1,1027.8 776.5,1024.5 777.3,1033.1 777.8,1039.3 778.5,1034.2 779.4,1025.8 779.6,1045.6 779.8,1042.8 780.9,1035.4 782.1,1022.1 782.3,1021.3 783.6,1030.3 784.1,1033.0 784.5,1029.9 785.8,1025.8 786.4,1022.2 787.1,1029.9 788.5,1049.3 788.6,1049.2 789.4,1048.8 790.6,1051.4 790.9,1051.0 791.8,1036.8 792.2,1032.1 793.1,1029.2 794.0,1024.0 794.4,1029.6 795.4,1046.5 795.5,1047.9 796.7,1054.4 797.6,1062.7 798.0,1059.3 799.4,1045.6 799.5,1044.5 800.8,1041.5 801.2,1038.4 802.1,1055.5 802.4,1047.4 803.0,1034.8 803.8,1045.0 804.8,1054.6 805.3,1051.8 806.6,1049.2 806.7,1050.6 807.9,1054.2 808.4,1057.3 809.5,1053.9 810.7,1044.9 810.7,1046.5" fill="none" stroke="#DA3C42" stroke-width="1.8" stroke-linejoin="round" stroke-linecap="round" />
<path d="M131 69V2015M884.3 69V2015" stroke="#000" stroke-width="3.6" fill="none"/>
<path d="M129.2 82.2H886.1" stroke="#000" stroke-width="2" fill="none"/>
<path d="M129.2 2002.5H886.1" stroke="#000" stroke-width="4" fill="none"/>
<path d="M131.4 69.2V82M131.4 2003V2015.5M194.1 69.2V82M194.1 2003V2015.5M256.8 69.2V82M256.8 2003V2015.5M319.6 69.2V82M319.6 2003V2015.5M382.3 69.2V82M382.3 2003V2015.5M445.0 69.2V82M445.0 2003V2015.5M507.7 69.2V82M507.7 2003V2015.5M570.4 69.2V82M570.4 2003V2015.5M633.2 69.2V82M633.2 2003V2015.5M695.9 69.2V82M695.9 2003V2015.5M758.6 69.2V82M758.6 2003V2015.5M821.3 69.2V82M821.3 2003V2015.5M884.0 69.2V82M884.0 2003V2015.5" stroke="#000" stroke-width="3.5" fill="none"/>
<text transform="translate(133.1,61.8) scale(1,1.035)" font-size="29" text-anchor="middle" fill="#231815">0</text>
<text transform="translate(131.4,2044.7) scale(1,1.035)" font-size="29" text-anchor="middle" fill="#231815">0</text>
<text transform="translate(197.0,61.8) scale(1,1.035)" font-size="29" text-anchor="middle" fill="#231815">1</text>
<text transform="translate(194.1,2044.7) scale(1,1.035)" font-size="29" text-anchor="middle" fill="#231815">1</text>
<text transform="translate(258.2,61.8) scale(1,1.035)" font-size="29" text-anchor="middle" fill="#231815">2</text>
<text transform="translate(256.8,2044.7) scale(1,1.035)" font-size="29" text-anchor="middle" fill="#231815">2</text>
<text transform="translate(321.6,61.8) scale(1,1.035)" font-size="29" text-anchor="middle" fill="#231815">3</text>
<text transform="translate(319.6,2044.7) scale(1,1.035)" font-size="29" text-anchor="middle" fill="#231815">3</text>
<text transform="translate(384.3,61.8) scale(1,1.035)" font-size="29" text-anchor="middle" fill="#231815">4</text>
<text transform="translate(382.3,2044.7) scale(1,1.035)" font-size="29" text-anchor="middle" fill="#231815">4</text>
<text transform="translate(447.0,61.8) scale(1,1.035)" font-size="29" text-anchor="middle" fill="#231815">5</text>
<text transform="translate(445.0,2044.7) scale(1,1.035)" font-size="29" text-anchor="middle" fill="#231815">5</text>
<text transform="translate(509.7,61.8) scale(1,1.035)" font-size="29" text-anchor="middle" fill="#231815">6</text>
<text transform="translate(507.7,2044.7) scale(1,1.035)" font-size="29" text-anchor="middle" fill="#231815">6</text>
<text transform="translate(572.4,61.8) scale(1,1.035)" font-size="29" text-anchor="middle" fill="#231815">7</text>
<text transform="translate(570.4,2044.7) scale(1,1.035)" font-size="29" text-anchor="middle" fill="#231815">7</text>
<text transform="translate(635.2,61.8) scale(1,1.035)" font-size="29" text-anchor="middle" fill="#231815">8</text>
<text transform="translate(633.2,2044.7) scale(1,1.035)" font-size="29" text-anchor="middle" fill="#231815">8</text>
<text transform="translate(697.9,61.8) scale(1,1.035)" font-size="29" text-anchor="middle" fill="#231815">9</text>
<text transform="translate(695.9,2044.7) scale(1,1.035)" font-size="29" text-anchor="middle" fill="#231815">9</text>
<text transform="translate(762.9,61.8) scale(1,1.035)" font-size="29" text-anchor="middle" fill="#231815">10</text>
<text transform="translate(763.6,2044.7) scale(1,1.035)" font-size="29" text-anchor="middle" fill="#231815">10</text>
<text transform="translate(823.8,61.8) scale(1,1.035)" font-size="29" text-anchor="middle" fill="#231815">11</text>
<text transform="translate(825.3,2044.7) scale(1,1.035)" font-size="29" text-anchor="middle" fill="#231815">11</text>
<text transform="translate(886.5,61.8) scale(1,1.035)" font-size="29" text-anchor="middle" fill="#231815">12</text>
<text transform="translate(888.0,2044.7) scale(1,1.035)" font-size="29" text-anchor="middle" fill="#231815">12</text>
<text transform="translate(522.5,24.4) scale(1,1.035)" font-size="28.7" text-anchor="middle" fill="#231815">Age (ka BP)</text>
<text transform="translate(525,2081.3) scale(1,1.035)" font-size="28.7" text-anchor="middle" fill="#231815">Age (ka BP)</text>
<path d="M886 113.7H897.3M886 143.3H897.3M886 172.9H897.3M886 202.6H897.3M886 232.2H897.3M886 261.9H897.3M886 291.5H897.3M886 321.1H897.3M886 350.8H897.3" stroke="#283590" stroke-width="3.3" fill="none"/>
<text transform="translate(902.5,118.7) scale(1,1.035)" font-size="28.8" fill="#283590">-2</text>
<text transform="translate(902.5,148.3) scale(1,1.035)" font-size="28.8" fill="#283590">0</text>
<text transform="translate(902.5,177.9) scale(1,1.035)" font-size="28.8" fill="#283590">2</text>
<text transform="translate(902.5,207.6) scale(1,1.035)" font-size="28.8" fill="#283590">4</text>
<text transform="translate(902.5,237.2) scale(1,1.035)" font-size="28.8" fill="#283590">6</text>
<text transform="translate(902.5,266.9) scale(1,1.035)" font-size="28.8" fill="#283590">8</text>
<text transform="translate(902.5,296.5) scale(1,1.035)" font-size="28.8" fill="#283590">10</text>
<text transform="translate(902.5,326.1) scale(1,1.035)" font-size="28.8" fill="#283590">12</text>
<text transform="translate(902.5,355.8) scale(1,1.035)" font-size="28.8" fill="#283590">14</text>
<path d="M120 278.6H130M120 341.7H130M120 404.8H130M120 467.9H130M120 531.0H130" stroke="#E6007E" stroke-width="3.3" fill="none"/>
<text transform="translate(117.2,285.6) scale(1,1.035)" font-size="28.8" text-anchor="end" fill="#E6007E">-220</text>
<text transform="translate(117.2,348.7) scale(1,1.035)" font-size="28.8" text-anchor="end" fill="#E6007E">-230</text>
<text transform="translate(117.2,411.8) scale(1,1.035)" font-size="28.8" text-anchor="end" fill="#E6007E">-240</text>
<text transform="translate(117.2,474.9) scale(1,1.035)" font-size="28.8" text-anchor="end" fill="#E6007E">-250</text>
<text transform="translate(117.2,538.0) scale(1,1.035)" font-size="28.8" text-anchor="end" fill="#E6007E">-260</text>
<path d="M886 481.4H897.3M886 532.7H897.3M886 584.0H897.3M886 635.3H897.3M886 686.6H897.3M886 737.9H897.3" stroke="#E8602C" stroke-width="3.3" fill="none"/>
<text transform="translate(904.5,487.6) scale(1,1.035)" font-size="28.8" fill="#E8602C">50</text>
<text transform="translate(904.5,538.9) scale(1,1.035)" font-size="28.8" fill="#E8602C">60</text>
<text transform="translate(904.5,590.2) scale(1,1.035)" font-size="28.8" fill="#E8602C">70</text>
<text transform="translate(904.5,641.5) scale(1,1.035)" font-size="28.8" fill="#E8602C">80</text>
<text transform="translate(904.5,692.8) scale(1,1.035)" font-size="28.8" fill="#E8602C">90</text>
<text transform="translate(904.5,744.1) scale(1,1.035)" font-size="28.8" fill="#E8602C">100</text>
<path d="M118 798.2H130M118 891.0H130M118 983.8H130" stroke="#231815" stroke-width="3.3" fill="none"/>
<text transform="translate(109.5,802.0) scale(1,1.035)" font-size="28.8" text-anchor="end" fill="#231815">-2</text>
<text transform="translate(109.5,894.8) scale(1,1.035)" font-size="28.8" text-anchor="end" fill="#231815">-1</text>
<text transform="translate(109.5,987.6) scale(1,1.035)" font-size="28.8" text-anchor="end" fill="#231815">0</text>
<path d="M886 966.8H897.3M886 1022.1H897.3M886 1077.4H897.3M886 1132.8H897.3M886 1188.1H897.3" stroke="#DA3C42" stroke-width="3.3" fill="none"/>
<text transform="translate(906,972.1) scale(1,1.035)" font-size="28.8" fill="#DA3C42">2</text>
<text transform="translate(906,1027.4) scale(1,1.035)" font-size="28.8" fill="#DA3C42">0</text>
<text transform="translate(906,1082.7) scale(1,1.035)" font-size="28.8" fill="#DA3C42">-2</text>
<text transform="translate(906,1138.1) scale(1,1.035)" font-size="28.8" fill="#DA3C42">-4</text>
<text transform="translate(906,1193.4) scale(1,1.035)" font-size="28.8" fill="#DA3C42">-6</text>
<path d="M118.3 1175.9H130M118.3 1218.0H130M118.3 1260.2H130M118.3 1302.3H130M118.3 1344.5H130M118.3 1386.6H130" stroke="#6A3A14" stroke-width="3.3" fill="none"/>
<text transform="translate(118.2,1183.8) scale(1,1.035)" font-size="28.8" text-anchor="end" fill="#6A3A14">0.90</text>
<text transform="translate(118.2,1225.9) scale(1,1.035)" font-size="28.8" text-anchor="end" fill="#6A3A14">0.91</text>
<text transform="translate(118.2,1268.1) scale(1,1.035)" font-size="28.8" text-anchor="end" fill="#6A3A14">0.92</text>
<text transform="translate(118.2,1310.2) scale(1,1.035)" font-size="28.8" text-anchor="end" fill="#6A3A14">0.93</text>
<text transform="translate(118.2,1352.4) scale(1,1.035)" font-size="28.8" text-anchor="end" fill="#6A3A14">0.94</text>
<text transform="translate(118.2,1394.5) scale(1,1.035)" font-size="28.8" text-anchor="end" fill="#6A3A14">0.95</text>
<path d="M886 1378.1H897.8M886 1423.1H897.8M886 1468.2H897.8M886 1513.2H897.8M886 1558.3H897.8" stroke="#B9499A" stroke-width="3.3" fill="none"/>
<text transform="translate(908.2,1382.4) scale(1,1.035)" font-size="28.8" fill="#B9499A">6</text>
<text transform="translate(903.6,1428.4) scale(1,1.035)" font-size="28.8" fill="#B9499A">10</text>
<text transform="translate(903.6,1474.7) scale(1,1.035)" font-size="28.8" fill="#B9499A">14</text>
<text transform="translate(903.6,1520.7) scale(1,1.035)" font-size="28.8" fill="#B9499A">18</text>
<text transform="translate(903.6,1566.9) scale(1,1.035)" font-size="28.8" fill="#B9499A">22</text>
<path d="M117.3 1521.0H130M117.3 1571.6H130M117.3 1622.2H130M117.3 1672.7H130M117.3 1723.3H130" stroke="#EF9125" stroke-width="3.3" fill="none"/>
<text transform="translate(110,1531.5) scale(1,1.035)" font-size="28.8" text-anchor="end" fill="#EF9125">0.2</text>
<text transform="translate(110,1582.1) scale(1,1.035)" font-size="28.8" text-anchor="end" fill="#EF9125">0.6</text>
<text transform="translate(110,1632.7) scale(1,1.035)" font-size="28.8" text-anchor="end" fill="#EF9125">1.0</text>
<text transform="translate(110,1683.2) scale(1,1.035)" font-size="28.8" text-anchor="end" fill="#EF9125">1.4</text>
<text transform="translate(110,1733.8) scale(1,1.035)" font-size="28.8" text-anchor="end" fill="#EF9125">1.8</text>
<path d="M886 1737.3H897.3M886 1781.8H897.3M886 1826.3H897.3M886 1870.7H897.3M886 1915.2H897.3M886 1959.7H897.3" stroke="#283590" stroke-width="3.3" fill="none"/>
<text transform="translate(902.6,1746.1) scale(1,1.035)" font-size="28.8" fill="#283590">0.00</text>
<text transform="translate(902.6,1790.6) scale(1,1.035)" font-size="28.8" fill="#283590">0.01</text>
<text transform="translate(902.6,1835.1) scale(1,1.035)" font-size="28.8" fill="#283590">0.02</text>
<text transform="translate(902.6,1879.5) scale(1,1.035)" font-size="28.8" fill="#283590">0.03</text>
<text transform="translate(902.6,1924.0) scale(1,1.035)" font-size="28.8" fill="#283590">0.04</text>
<text transform="translate(902.6,1968.5) scale(1,1.035)" font-size="28.8" fill="#283590">0.05</text>
<text transform="translate(35.1,520.2) rotate(-90) scale(1,1.035)" font-size="28.7" fill="#231815" textLength="241.7" lengthAdjust="spacing">(b) <tspan fill="#E6007E">Δ<tspan font-size="16.6" dy="-9.6">′17</tspan><tspan dy="9.6">O (per meg)</tspan></tspan></text>
<text transform="translate(37.5,988.2) rotate(-90) scale(1,1.035)" font-size="28.7" fill="#231815" textLength="247.9" lengthAdjust="spacing">(d) δ<tspan font-size="16.6" dy="-9.6">18</tspan><tspan dy="9.6">O<tspan font-size="16.6" dy="9.2">c</tspan><tspan dy="-9.2"> (‰,VPDB)</tspan></tspan></text>
<text transform="translate(38,1354.3) rotate(-90) scale(1,1.035)" font-size="28.7" fill="#231815" textLength="168.2" lengthAdjust="spacing">(f) <tspan fill="#6A3A14">(<tspan font-size="16.6" dy="-9.6">234</tspan><tspan dy="9.6">U/<tspan font-size="16.6" dy="-9.6">238</tspan><tspan dy="9.6">U)<tspan font-size="16.6" dy="9.2">0</tspan><tspan dy="-9.2"></tspan></tspan></tspan></tspan></text>
<text transform="translate(40.8,1758.5) rotate(-90) scale(1,1.035)" font-size="28.7" fill="#231815" textLength="267.9" lengthAdjust="spacing">(h) <tspan fill="#EF9125">Sr/Ca (mmol/mol)</tspan></text>
<text transform="translate(978.8,359.8) rotate(-90) scale(1,1.035)" font-size="28.7" fill="#231815" textLength="260.5" lengthAdjust="spacing">(a) <tspan fill="#283590">δD<tspan font-size="16.6" dy="9.2">fi</tspan><tspan dy="-9.2"> (‰, VSMOW)</tspan></tspan></text>
<text transform="translate(982.3,762.6) rotate(-90) scale(1,1.035)" font-size="28.7" fill="#231815" textLength="315" lengthAdjust="spacing">(c) <tspan fill="#E8602C">Raletive humidity (%)</tspan></text>
<text transform="translate(985,1196.2) rotate(-90) scale(1,1.035)" font-size="28.7" fill="#231815" textLength="235.2" lengthAdjust="spacing">(e) <tspan fill="#DA3C42">δ<tspan font-size="16.6" dy="-9.6">13</tspan><tspan dy="9.6">C (‰,VPDB)</tspan></tspan></text>
<text transform="translate(986.2,1607) rotate(-90) scale(1,1.035)" font-size="28.7" fill="#231815" textLength="278.8" lengthAdjust="spacing">(g) <tspan fill="#B9499A">Mg/Ca (mmol/mol)</tspan></text>
<text transform="translate(990.5,1978.6) rotate(-90) scale(1,1.035)" font-size="28.7" fill="#231815" textLength="263.8" lengthAdjust="spacing">(i) <tspan fill="#283590">Ba/Ca (mmol/mol)</tspan></text>
</svg></body></html>
